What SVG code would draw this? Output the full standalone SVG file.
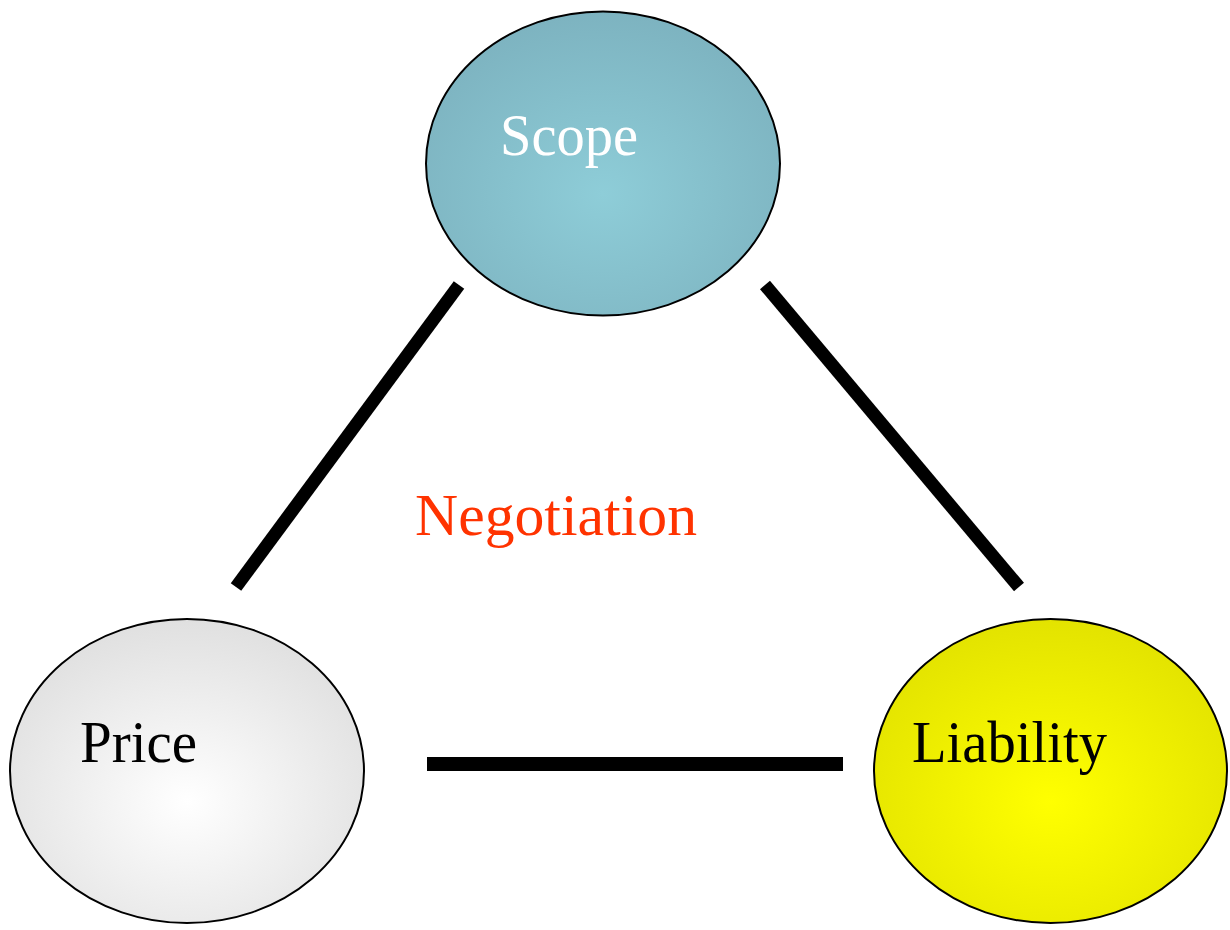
<svg xmlns="http://www.w3.org/2000/svg" width="1230" height="930" viewBox="0 0 1230 930">
<defs>
<radialGradient id="gScope" cx="0.5" cy="0.6" r="0.6"><stop offset="0" stop-color="#8ecdd8"/><stop offset="1" stop-color="#7db3c0"/></radialGradient>
<radialGradient id="gPrice" cx="0.5" cy="0.6" r="0.6"><stop offset="0" stop-color="#ffffff"/><stop offset="1" stop-color="#e0e0e0"/></radialGradient>
<radialGradient id="gLiab" cx="0.5" cy="0.6" r="0.6"><stop offset="0" stop-color="#ffff00"/><stop offset="1" stop-color="#e3e300"/></radialGradient>
</defs>
<style>
.node{stroke:#000;stroke-width:2}
.lbl{font-family:"Liberation Serif",serif;font-size:60px}
.conn{stroke:#000;fill:none}
</style>
<g id="connectors">
<line class="conn" x1="459" y1="285" x2="236" y2="587" stroke-width="13"/>
<line class="conn" x1="765" y1="285" x2="1019" y2="587" stroke-width="13"/>
<line class="conn" x1="427" y1="764" x2="843" y2="764" stroke-width="14"/>
</g>
<g id="scope">
<ellipse class="node" cx="603" cy="163.5" rx="177" ry="152" fill="url(#gScope)"/>
<text class="lbl" x="500" y="155" fill="#ffffff" textLength="138" lengthAdjust="spacingAndGlyphs">Scope</text>
</g>
<g id="price">
<ellipse class="node" cx="187" cy="771" rx="177" ry="152" fill="url(#gPrice)"/>
<text class="lbl" x="80" y="762" fill="#000000" textLength="117" lengthAdjust="spacingAndGlyphs">Price</text>
</g>
<g id="liability">
<ellipse class="node" cx="1050.5" cy="771" rx="176.5" ry="152" fill="url(#gLiab)"/>
<text class="lbl" x="912" y="762" fill="#000000" textLength="195" lengthAdjust="spacingAndGlyphs">Liability</text>
</g>
<g id="negotiation">
<text class="lbl" x="415" y="535" fill="#ff3300" textLength="282" lengthAdjust="spacingAndGlyphs">Negotiation</text>
</g>
</svg>
